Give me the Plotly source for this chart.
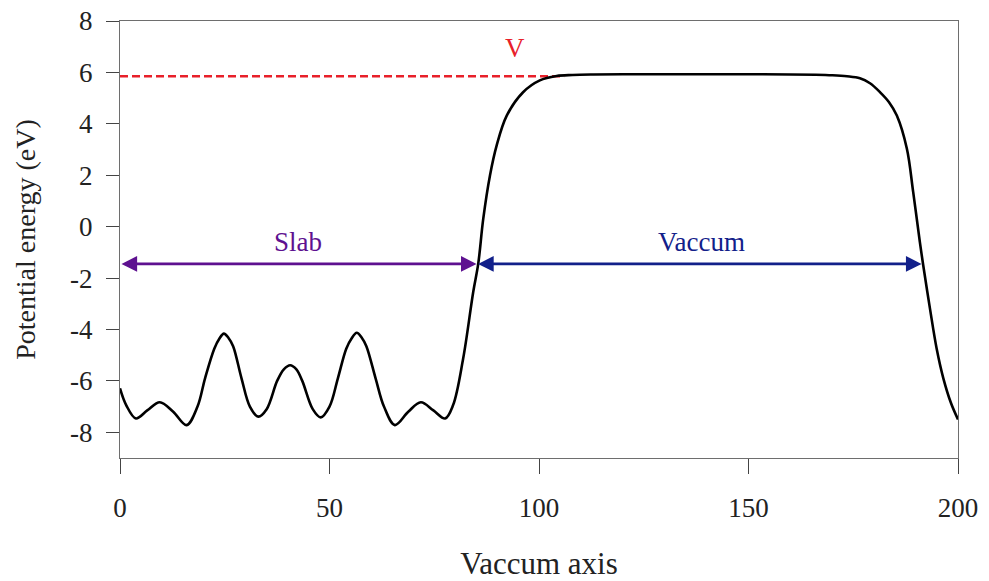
import plotly.graph_objects as go

# Electrostatic potential profile along the vacuum axis
pos = [0, 1.5, 3.8, 6.5, 9.5, 12.7, 15.9, 18.5, 20.3, 22.5, 23.7, 24.8, 25.9, 27,
       29, 31, 33, 35, 37.5, 39.1, 40.6, 42.1, 43.5, 46, 47.9, 50, 52, 54, 55.3,
       56.5, 57.7, 58.8, 61, 63, 65.6, 68.8, 71.8, 74.8, 77.6, 79.5, 81.9, 84.3,
       85.5, 86.7, 88.3, 89.9, 92.3, 96.2, 100.2, 104.2, 108, 113, 120, 130, 140,
       150, 160, 166, 170, 173.5, 176.6, 179, 181.4, 183.5, 185.4, 187.8, 189.3,
       190.9, 191.7, 193.3, 194.9, 196.5, 198.3, 200]
energy = [-6.29, -6.95, -7.46, -7.15, -6.83, -7.2, -7.72, -7.0, -5.9, -4.75, -4.36,
          -4.16, -4.33, -4.65, -5.9, -7.0, -7.39, -7.1, -6.0, -5.55, -5.39, -5.55,
          -6.0, -7.1, -7.42, -7.0, -5.9, -4.75, -4.34, -4.13, -4.32, -4.65, -5.9,
          -7.0, -7.72, -7.2, -6.83, -7.15, -7.46, -6.94, -5.13, -2.54, -1.44, 0.31,
          1.99, 3.16, 4.32, 5.23, 5.69, 5.86, 5.9, 5.92, 5.93, 5.93, 5.93, 5.93,
          5.92, 5.91, 5.89, 5.85, 5.77, 5.58, 5.23, 4.85, 4.32, 3.03, 1.35, -0.6,
          -1.5, -3.18, -4.74, -5.9, -6.85, -7.5]

# Vacuum level and region markers
v_level = 5.85
v_line_x = [0, 106]
arrow_y = -1.45
slab_span = [0, 85.1]
vacuum_span = [85.1, 191.3]

x_ticks = [0, 50, 100, 150, 200]
y_ticks = [8, 6, 4, 2, 0, -2, -4, -6, -8]
y_tick_text = ["8", "6", "4", "2", "0", "-2", "-4", "-6", "-8"]

SERIF = "Liberation Serif, Times New Roman, serif"
PURPLE = "#5e1190"
NAVY = "#12208a"
RED = "#e8202a"
INK = "#222222"

fig = go.Figure()

fig.add_trace(go.Scatter(
    x=v_line_x, y=[v_level, v_level], mode="lines",
    line=dict(color=RED, width=2.5, dash="8px,4px"),
    hoverinfo="skip", showlegend=False))

fig.add_trace(go.Scatter(
    x=pos, y=energy, mode="lines",
    line=dict(color="black", width=2.6, shape="spline", smoothing=1.0),
    showlegend=False))

def span_arrow(span, color):
    fig.add_annotation(
        x=span[1], y=arrow_y, ax=span[0], ay=arrow_y,
        xref="x", yref="y", axref="x", ayref="y",
        text="", showarrow=True, arrowhead=2, arrowside="end+start",
        arrowsize=1.2, arrowwidth=2.6, arrowcolor=color, standoff=0,
        startstandoff=0)

span_arrow(slab_span, PURPLE)
span_arrow(vacuum_span, NAVY)

fig.add_annotation(x=(slab_span[0] + slab_span[1]) / 2, y=-0.6, text="Slab",
                   showarrow=False, font=dict(family=SERIF, size=27, color=PURPLE))
fig.add_annotation(x=(vacuum_span[0] + vacuum_span[1]) / 2 + 0.5, y=-0.6, text="Vaccum",
                   showarrow=False, font=dict(family=SERIF, size=27, color=NAVY))
fig.add_annotation(x=94.3, y=6.95, text="V",
                   showarrow=False, font=dict(family=SERIF, size=27, color=RED))

axis_common = dict(
    showgrid=False, zeroline=False, showline=True, linewidth=1.3,
    linecolor="#6e6e6e", mirror=True, ticks="outside", tickcolor="#444",
    tickwidth=1.3, tickfont=dict(family=SERIF, size=27, color=INK),
    automargin=False,
)

fig.update_xaxes(
    range=[0, 200], tickvals=x_ticks, ticklen=15, ticklabelstandoff=10,
    title=dict(text="Vaccum axis", font=dict(family=SERIF, size=31, color=INK),
               standoff=32),
    **axis_common)
fig.update_yaxes(
    range=[-9, 8], tickvals=y_ticks, ticktext=y_tick_text, ticklen=13,
    ticklabelstandoff=8,
    title=dict(text="Potential energy (eV)", font=dict(family=SERIF, size=28, color=INK),
               standoff=26),
    **axis_common)

fig.update_layout(
    width=989, height=581,
    margin=dict(l=120, r=31, t=21, b=123),
    paper_bgcolor="white", plot_bgcolor="white",
)

fig.write_html("out.html")
